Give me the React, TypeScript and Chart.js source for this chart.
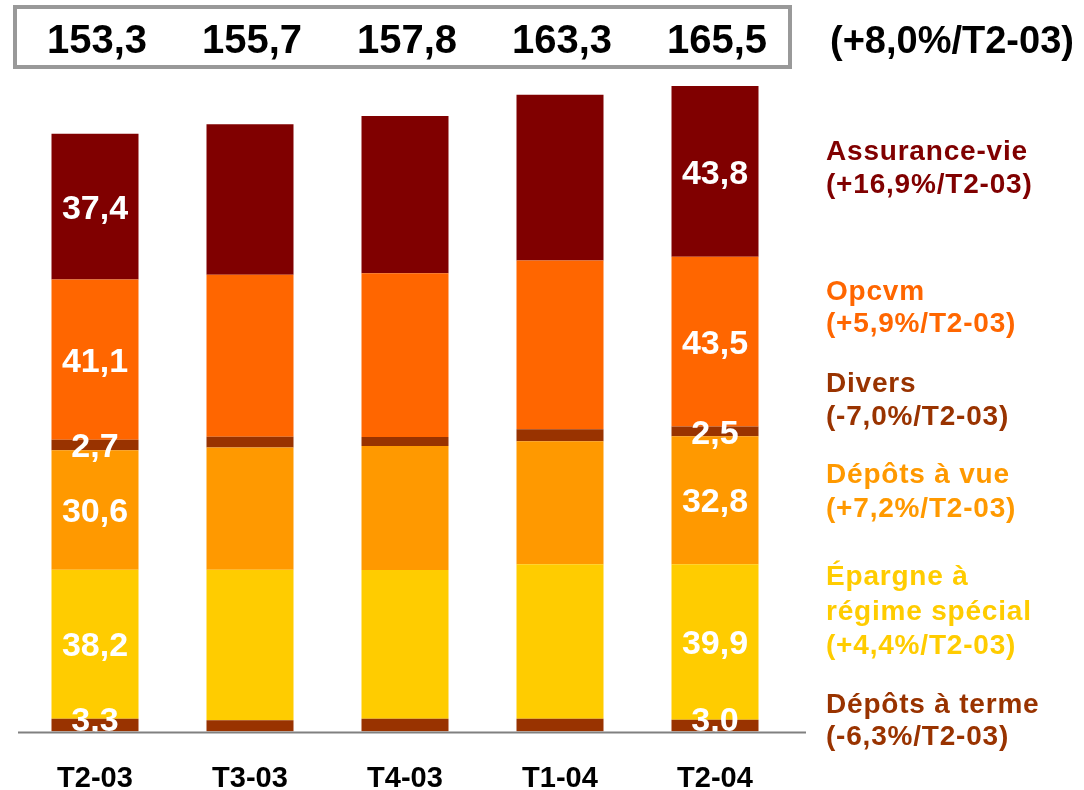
import React, { useEffect, useRef } from "react";
import { Chart, registerables } from "chart.js";

Chart.register(...registerables);

// ---- data ----
const categories = ["T2-03", "T3-03", "T4-03", "T1-04", "T2-04"];
const depotsTerme = [3.3, 2.9, 3.3, 3.3, 3.0];
const epargne = [38.2, 38.6, 38.1, 39.6, 39.9];
const depotsVue = [30.6, 31.3, 31.8, 31.5, 32.8];
const divers = [2.7, 2.8, 2.3, 3.1, 2.5];
const opcvm = [41.1, 41.5, 42.0, 43.3, 43.5];
const assuranceVie = [37.4, 38.6, 40.3, 42.5, 43.8];
const totals = [153.3, 155.7, 157.8, 163.3, 165.5];
const totalChange = "(+8,0%/T2-03)";
const labelledBars = [0, 4];

const seriesNames = [
  "Dépôts à terme",
  "Épargne à régime spécial",
  "Dépôts à vue",
  "Divers",
  "Opcvm",
  "Assurance-vie",
];
const seriesColors = ["#993300", "#FFCC00", "#FF9900", "#993300", "#FF6600", "#800000"];
const seriesValues = [depotsTerme, epargne, depotsVue, divers, opcvm, assuranceVie];

// legend text lines (top to bottom) with their series index
const legendLines = [
  { series: 5, lines: ["Assurance-vie", "(+16,9%/T2-03)"] },
  { series: 4, lines: ["Opcvm", "(+5,9%/T2-03)"] },
  { series: 3, lines: ["Divers", "(-7,0%/T2-03)"] },
  { series: 2, lines: ["Dépôts à vue", "(+7,2%/T2-03)"] },
  { series: 1, lines: ["Épargne à", "régime spécial", "(+4,4%/T2-03)"] },
  { series: 0, lines: ["Dépôts à terme", "(-6,3%/T2-03)"] },
];

const FONT = "'Liberation Sans', Arial, Helvetica, sans-serif";
const fmt = (v: number) => v.toFixed(1).replace(".", ",");

const legendCenters = [[150, 183], [290, 322], [382, 415], [473, 507], [575, 610, 644], [703, 735]];

const overlayPlugin = {
  id: "overlay",
  afterDatasetsDraw(chart: any) {
    const ctx = chart.ctx;
    const area = chart.chartArea;
    ctx.save();
    const fs = 34;
    ctx.font = `bold ${fs}px ${FONT}`;
    ctx.fillStyle = "#FFFFFF";
    ctx.textAlign = "center";
    ctx.textBaseline = "alphabetic";
    chart.data.datasets.forEach((ds: any, di: number) => {
      const meta = chart.getDatasetMeta(di);
      labelledBars.forEach((i) => {
        const el: any = meta.data[i];
        if (!el) return;
        let yc = (el.y + el.base) / 2;
        yc = Math.min(yc, area.bottom - 13);
        ctx.fillText(fmt(ds.data[i]), el.x, yc + 0.358 * fs);
      });
    });
    ctx.restore();
  },
  afterDraw(chart: any) {
    const ctx = chart.ctx;
    const area = chart.chartArea;
    const xs = chart.scales.x;
    ctx.save();
    // baseline axis
    ctx.strokeStyle = "#808080";
    ctx.lineWidth = 2;
    ctx.beginPath();
    ctx.moveTo(18, area.bottom + 1);
    ctx.lineTo(806, area.bottom + 1);
    ctx.stroke();

    // category labels
    const cfs = 29;
    ctx.font = `bold ${cfs}px ${FONT}`;
    ctx.fillStyle = "#000000";
    ctx.textAlign = "center";
    ctx.textBaseline = "alphabetic";
    categories.forEach((c, i) => {
      ctx.fillText(c, xs.getPixelForValue(i), 777 + 0.358 * cfs);
    });

    // totals box
    ctx.strokeStyle = "#999999";
    ctx.lineWidth = 4;
    ctx.strokeRect(15, 7, 775, 60);
    const tfs = 40;
    ctx.font = `bold ${tfs}px ${FONT}`;
    ctx.fillStyle = "#000000";
    totals.forEach((t, i) => {
      ctx.fillText(fmt(t), xs.getPixelForValue(i) + 2, 38.5 + 0.358 * tfs);
    });
    ctx.textAlign = "left";
    ctx.font = `bold 38px ${FONT}`;
    ctx.fillText(totalChange, 830, 38.5 + 0.358 * 40);

    // legend
    const lfs = 28;
    ctx.font = `bold ${lfs}px ${FONT}`;
    ctx.textAlign = "left";
    try { (ctx as any).letterSpacing = "0.8px"; } catch (e) {}
    legendLines.forEach((entry, k) => {
      ctx.fillStyle = seriesColors[entry.series];
      entry.lines.forEach((line, j) => {
        ctx.fillText(line, 826, legendCenters[k][j] + 0.358 * lfs);
      });
    });
    try { (ctx as any).letterSpacing = "0px"; } catch (e) {}
    ctx.restore();
  },
};

export default function App() {
  const ref = useRef<HTMLCanvasElement | null>(null);
  useEffect(() => {
    if (!ref.current) return;
    const chart = new Chart(ref.current, {
      type: "bar",
      data: {
        labels: categories,
        datasets: seriesValues.map((vals, i) => ({
          label: seriesNames[i],
          data: vals,
          backgroundColor: seriesColors[i],
          borderWidth: 0,
          barPercentage: 87 / 155,
          categoryPercentage: 1,
        })),
      },
      options: {
        animation: false,
        responsive: false,
        maintainAspectRatio: false,
        layout: { padding: { left: 17.5, right: 291.5, top: 68.5, bottom: 58.5 } },
        plugins: { legend: { display: false }, tooltip: { enabled: false } },
        scales: {
          x: { stacked: true, display: false },
          y: { stacked: true, display: false, min: 0, max: 170 },
        },
      },
      plugins: [overlayPlugin],
    });
    return () => chart.destroy();
  }, []);
  return (
    <div style={{ position: "absolute", left: 0, top: 0, width: 1084, height: 790, background: "#fff" }}>
      <canvas ref={ref} width={1084} height={790} style={{ width: 1084, height: 790, display: "block" }} />
    </div>
  );
}
